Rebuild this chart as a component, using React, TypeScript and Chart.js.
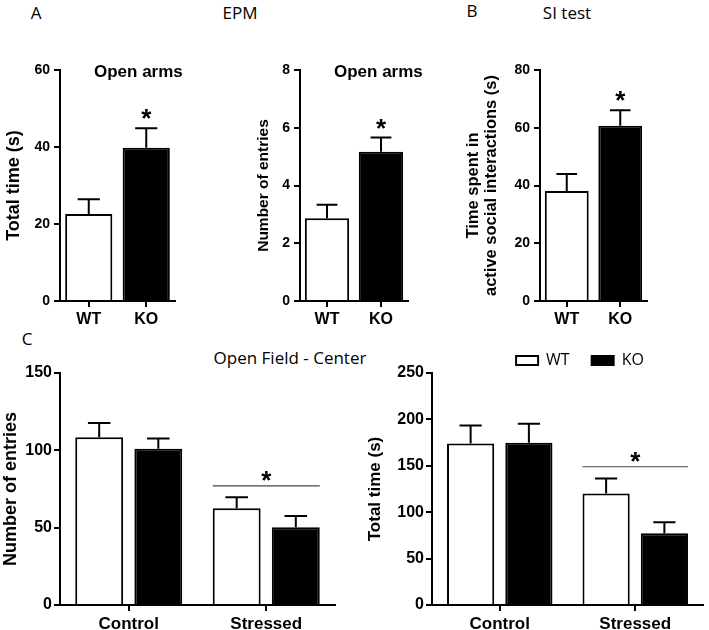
import React, { useEffect, useRef } from 'react';
import { Chart, registerables } from 'chart.js';

Chart.register(...registerables);

const BOLD = '"Liberation Sans", Arial, Helvetica, sans-serif';
const SANS = '"Open Sans", "Noto Sans", sans-serif';
Chart.defaults.font.family = BOLD;
Chart.defaults.color = '#000';

// ---------- data ----------
const groups = ['WT', 'KO'];
const conditions = ['Control', 'Stressed'];

// A — EPM, open arms, total time (s)
const epmTimeMeans = [22.6, 39.8];
const epmTimeSem = [3.8, 5.1];
const epmTimeTicks = [0, 20, 40, 60];
const epmTimeStars = [false, true];

// A — EPM, open arms, number of entries
const epmEntriesMeans = [2.87, 5.17];
const epmEntriesSem = [0.46, 0.49];
const epmEntriesTicks = [0, 2, 4, 6, 8];
const epmEntriesStars = [false, true];

// B — SI test
const siMeans = [38.1, 60.7];
const siSem = [5.9, 5.4];
const siTicks = [0, 20, 40, 60, 80];
const siStars = [false, true];

// C — Open field centre, number of entries
const ofEntriesWT = [108.4, 62.5];
const ofEntriesWTSem = [9.3, 7.2];
const ofEntriesKO = [101.1, 50.2];
const ofEntriesKOSem = [6.5, 7.4];
const ofEntriesTicks = [0, 50, 100, 150];
const ofEntriesSig = { category: 1, value: 77 };

// C — Open field centre, total time (s)
const ofTimeWT = [174.1, 120.1];
const ofTimeWTSem = [19.4, 16.2];
const ofTimeKO = [174.8, 77.3];
const ofTimeKOSem = [20.5, 11.9];
const ofTimeTicks = [0, 50, 100, 150, 200, 250];
const ofTimeSig = { category: 1, value: 149 };

// ---------- plugins ----------
type Notes = {
  errors: number[][];
  stars?: boolean[];
  sigLine?: { category: number; value: number };
  title?: string;
};

function makeNotes(n: Notes) {
  return {
    id: 'barNotes',
    afterDatasetsDraw(chart: any) {
      const { ctx, chartArea } = chart;
      const yScale = chart.scales.y;
      ctx.save();
      ctx.strokeStyle = '#000';
      ctx.lineWidth = 2;
      n.errors.forEach((errs, di) => {
        const meta = chart.getDatasetMeta(di);
        const values = chart.data.datasets[di].data as number[];
        meta.data.forEach((bar: any, i: number) => {
          const yTop = yScale.getPixelForValue(values[i] + errs[i]);
          const half = (bar.width * 0.47) / 2;
          ctx.beginPath();
          ctx.moveTo(bar.x, bar.y);
          ctx.lineTo(bar.x, yTop);
          ctx.moveTo(bar.x - half, yTop);
          ctx.lineTo(bar.x + half, yTop);
          ctx.stroke();
        });
      });
      ctx.fillStyle = '#000';
      ctx.font = `bold 26px ${BOLD}`;
      ctx.textAlign = 'center';
      ctx.textBaseline = 'alphabetic';
      if (n.stars) {
        const meta = chart.getDatasetMeta(0);
        const values = chart.data.datasets[0].data as number[];
        n.stars.forEach((flag, i) => {
          if (!flag) return;
          const bar: any = meta.data[i];
          const yTop = yScale.getPixelForValue(values[i] + n.errors[0][i]);
          ctx.fillText('*', bar.x, yTop - 1);
        });
      }
      if (n.sigLine) {
        const first: any = chart.getDatasetMeta(0).data[n.sigLine.category];
        const last: any = chart.getDatasetMeta(chart.data.datasets.length - 1).data[n.sigLine.category];
        const x1 = first.x - first.width / 2;
        const x2 = last.x + last.width / 2;
        const yy = yScale.getPixelForValue(n.sigLine.value);
        ctx.strokeStyle = '#444';
        ctx.lineWidth = 1.2;
        ctx.beginPath();
        ctx.moveTo(x1, yy);
        ctx.lineTo(x2, yy);
        ctx.stroke();
        ctx.fillText('*', (x1 + x2) / 2, yy + 3);
      }
      if (n.title) {
        ctx.font = `bold 17px ${BOLD}`;
        ctx.textAlign = 'left';
        ctx.fillText(n.title, chartArea.left + 34, chartArea.top + 7);
      }
      ctx.restore();
    },
  };
}

// ---------- axes ----------
function yAxis(
  tickVals: number[],
  title: string | string[],
  o: { width: number; titleSize: number; titleLH?: number; titlePad: number; tickSize: number; tickPad: number }
) {
  return {
    type: 'linear',
    position: 'left',
    min: tickVals[0],
    max: tickVals[tickVals.length - 1],
    afterBuildTicks: (s: any) => {
      s.ticks = tickVals.map((v) => ({ value: v }));
    },
    afterFit: (s: any) => {
      s.width = o.width;
    },
    grid: { display: true, drawOnChartArea: false, drawTicks: true, tickLength: 6, color: '#000', lineWidth: 2 },
    border: { display: true, color: '#000', width: 2 },
    ticks: { color: '#000', padding: o.tickPad, font: { family: BOLD, size: o.tickSize, weight: 'bold' } },
    title: {
      display: true,
      text: title,
      color: '#000',
      padding: { top: o.titlePad, bottom: 0 },
      font: { family: BOLD, size: o.titleSize, weight: 'bold', lineHeight: o.titleLH ?? 1.2 },
    },
  };
}

function xAxis(height: number, labelSize: number) {
  return {
    type: 'category',
    offset: true,
    afterFit: (s: any) => {
      s.height = height;
    },
    grid: {
      display: true,
      drawOnChartArea: false,
      drawTicks: true,
      tickLength: 6,
      offset: false,
      color: '#000',
      lineWidth: 2,
    },
    border: { display: true, color: '#000', width: 2 },
    ticks: {
      color: '#000',
      padding: 3,
      maxRotation: 0,
      autoSkip: false,
      font: { family: BOLD, size: labelSize, weight: 'bold' },
    },
  };
}

function singleBarConfig(
  means: number[],
  sem: number[],
  stars: boolean[],
  ticks: number[],
  yTitle: string | string[],
  yOpts: any,
  padding: any,
  title?: string
) {
  return {
    type: 'bar',
    data: {
      labels: groups,
      datasets: [
        {
          label: 'mean',
          data: means,
          backgroundColor: ['#ffffff', '#000000'],
          borderColor: '#000000',
          borderWidth: 2,
          barPercentage: 0.82,
          categoryPercentage: 1,
        },
      ],
    },
    options: {
      responsive: false,
      animation: false,
      events: [],
      layout: { padding },
      plugins: { legend: { display: false }, tooltip: { enabled: false } },
      scales: { x: xAxis(39, 16), y: yAxis(ticks, yTitle, yOpts) },
    },
    plugins: [makeNotes({ errors: [sem], stars, title })],
  };
}

function groupedConfig(
  wt: number[],
  wtSem: number[],
  ko: number[],
  koSem: number[],
  ticks: number[],
  yTitle: string,
  yOpts: any,
  padding: any,
  sig: { category: number; value: number },
  withLegend: boolean
) {
  const scales: any = { x: xAxis(25, 17), y: yAxis(ticks, yTitle, yOpts) };
  if (withLegend) {
    scales.yPad = {
      type: 'linear',
      position: 'right',
      display: true,
      grid: { display: false, drawTicks: false },
      border: { display: false },
      ticks: { display: false },
      afterFit: (s: any) => {
        s.width = 95;
      },
    };
  }
  return {
    type: 'bar',
    data: {
      labels: conditions,
      datasets: [
        {
          label: 'WT',
          data: wt,
          backgroundColor: '#ffffff',
          borderColor: '#000000',
          borderWidth: 2,
          barPercentage: 0.81,
          categoryPercentage: 0.86,
        },
        {
          label: 'KO',
          data: ko,
          backgroundColor: '#000000',
          borderColor: '#000000',
          borderWidth: 2,
          barPercentage: 0.81,
          categoryPercentage: 0.86,
        },
      ],
    },
    options: {
      responsive: false,
      animation: false,
      events: [],
      layout: { padding },
      plugins: {
        tooltip: { enabled: false },
        legend: withLegend
          ? {
              display: true,
              position: 'top',
              align: 'center',
              fullSize: true,
              maxHeight: 42.5,
              labels: {
                boxWidth: 22,
                boxHeight: 9,
                padding: 22,
                color: '#000',
                font: { family: SANS, size: 16, weight: 'normal' },
              },
            }
          : { display: false },
      },
      scales,
    },
    plugins: [makeNotes({ errors: [wtSem, koSem], sigLine: sig })],
  };
}

function ChartCanvas(props: { left: number; top: number; width: number; height: number; build: () => any }) {
  const ref = useRef<HTMLCanvasElement>(null);
  useEffect(() => {
    const chart = new Chart(ref.current as HTMLCanvasElement, props.build());
    return () => chart.destroy();
  }, []);
  return (
    <canvas
      ref={ref}
      width={props.width}
      height={props.height}
      style={{ position: 'absolute', left: props.left, top: props.top, width: props.width, height: props.height }}
    />
  );
}

function Label(props: { x: number; y: number; text: string; size?: number }) {
  return (
    <div
      style={{
        position: 'absolute',
        left: props.x,
        top: props.y,
        transform: 'translate(-50%, -50%)',
        fontFamily: SANS,
        fontSize: props.size ?? 17,
        lineHeight: 1,
        whiteSpace: 'nowrap',
        color: '#000',
      }}
    >
      {props.text}
    </div>
  );
}

export default function App() {
  return (
    <div
      style={{
        position: 'absolute',
        left: 0,
        top: 0,
        width: 709,
        height: 630,
        overflow: 'hidden',
        background: '#fff',
      }}
    >
      <Label x={36} y={12} text="A" />
      <Label x={240} y={12} text="EPM" />
      <Label x={472} y={10} text="B" />
      <Label x={567} y={12} text="SI test" />
      <Label x={27} y={338} text="C" />
      <Label x={290} y={357} text="Open Field - Center" />

      <ChartCanvas
        left={0}
        top={40}
        width={200}
        height={300}
        build={() =>
          singleBarConfig(
            epmTimeMeans,
            epmTimeSem,
            epmTimeStars,
            epmTimeTicks,
            'Total time (s)',
            { width: 60, titleSize: 18, titlePad: 3, tickSize: 14, tickPad: 4 },
            { left: 0, top: 30, right: 25, bottom: 0 },
            'Open arms'
          )
        }
      />
      <ChartCanvas
        left={240}
        top={40}
        width={200}
        height={300}
        build={() =>
          singleBarConfig(
            epmEntriesMeans,
            epmEntriesSem,
            epmEntriesStars,
            epmEntriesTicks,
            'Number of entries',
            { width: 50, titleSize: 15.5, titlePad: 4, tickSize: 14, tickPad: 4 },
            { left: 10, top: 30, right: 32, bottom: 0 },
            'Open arms'
          )
        }
      />
      <ChartCanvas
        left={461}
        top={40}
        width={200}
        height={300}
        build={() =>
          singleBarConfig(
            siMeans,
            siSem,
            siStars,
            siTicks,
            ['Time spent in', 'active social interactions (s)'],
            { width: 79, titleSize: 16.5, titleLH: 1.08, titlePad: 4, tickSize: 14, tickPad: 4 },
            { left: 0, top: 30, right: 14, bottom: 0 }
          )
        }
      />
      <ChartCanvas
        left={0}
        top={320}
        width={350}
        height={310}
        build={() =>
          groupedConfig(
            ofEntriesWT,
            ofEntriesWTSem,
            ofEntriesKO,
            ofEntriesKOSem,
            ofEntriesTicks,
            'Number of entries',
            { width: 60, titleSize: 18, titlePad: 0, tickSize: 16, tickPad: 2 },
            { left: 0, top: 53, right: 15, bottom: 0 },
            ofEntriesSig,
            false
          )
        }
      />
      <ChartCanvas
        left={352}
        top={320}
        width={446}
        height={310}
        build={() =>
          groupedConfig(
            ofTimeWT,
            ofTimeWTSem,
            ofTimeKO,
            ofTimeKOSem,
            ofTimeTicks,
            'Total time (s)',
            { width: 70, titleSize: 17, titlePad: 3, tickSize: 16, tickPad: 2 },
            { left: 10, top: 10.5, right: 0, bottom: 0 },
            ofTimeSig,
            true
          )
        }
      />
    </div>
  );
}
